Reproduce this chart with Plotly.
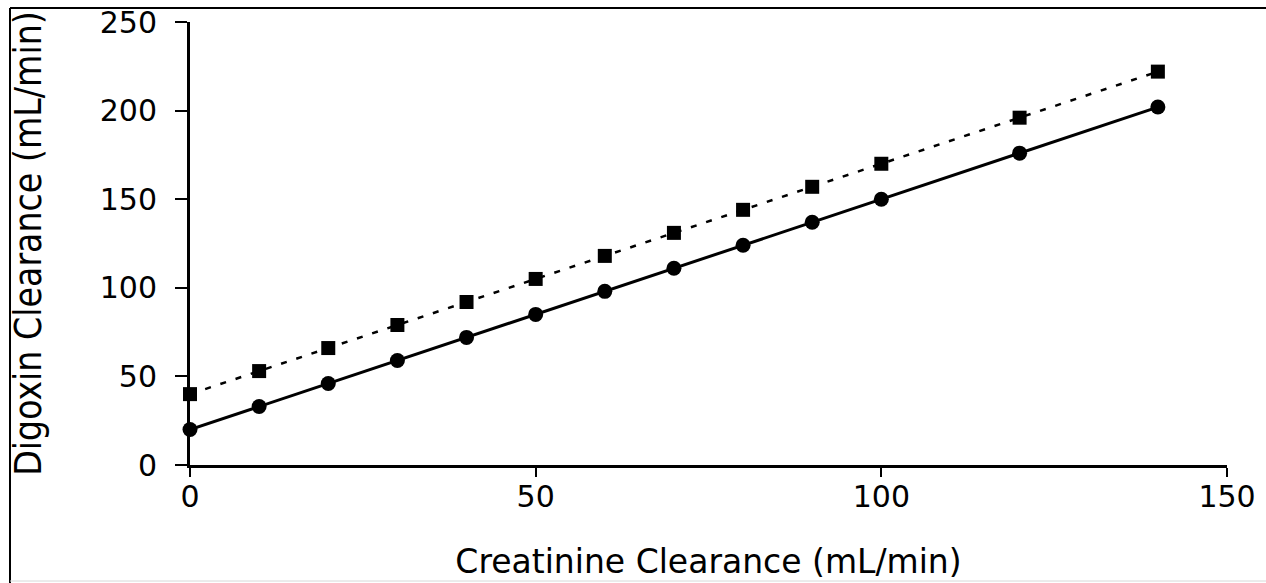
import plotly.graph_objects as go

creatinine = [0, 10, 20, 30, 40, 50, 60, 70, 80, 90, 100, 120, 140]
digoxin_circles = [20, 33, 46, 59, 72, 85, 98, 111, 124, 137, 150, 176, 202]
digoxin_squares = [40, 53, 66, 79, 92, 105, 118, 131, 144, 157, 170, 196, 222]
x_ticks = [0, 50, 100, 150]
y_ticks = [0, 50, 100, 150, 200, 250]

W, H = 1266, 583
L, R, T, B = 190, 39, 22, 118
pw, ph = W - L - R, H - T - B

fig = go.Figure()
fig.add_trace(go.Scatter(x=creatinine, y=digoxin_squares, mode="lines+markers",
                         line=dict(color="black", width=2.5, dash="6px,10px"),
                         marker=dict(symbol="square", size=14, color="black"),
                         cliponaxis=False, showlegend=False))
fig.add_trace(go.Scatter(x=creatinine, y=digoxin_circles, mode="lines+markers",
                         line=dict(color="black", width=3),
                         marker=dict(symbol="circle", size=15, color="black"),
                         cliponaxis=False, showlegend=False))

def px2x(p):
    return (p - L) / pw

def py2y(p):
    return (H - B - p) / ph

# outer frame: top and left black, bottom faint grey
fig.add_shape(type="line", xref="paper", yref="paper",
              x0=px2x(10), x1=px2x(1266), y0=py2y(8), y1=py2y(8),
              line=dict(color="black", width=2))
fig.add_shape(type="line", xref="paper", yref="paper",
              x0=px2x(10), x1=px2x(10), y0=py2y(8), y1=py2y(583),
              line=dict(color="black", width=2))
fig.add_shape(type="line", xref="paper", yref="paper",
              x0=px2x(10), x1=px2x(1266), y0=py2y(581), y1=py2y(581),
              line=dict(color="#d8d8d8", width=1))

font = "DejaVu Sans, Liberation Sans, Arial, sans-serif"
fig.update_layout(
    width=W, height=H,
    margin=dict(l=L, r=R, t=T, b=B, autoexpand=False),
    paper_bgcolor="white", plot_bgcolor="white",
    xaxis=dict(range=[0, 150], tickvals=x_ticks, showgrid=False, zeroline=False,
               automargin=False,
               showline=True, linecolor="black", linewidth=3,
               ticks="outside", ticklen=9, tickwidth=2, tickcolor="black",
               ticklabelstandoff=-6,
               tickfont=dict(family=font, size=30, color="black"),
               title=dict(text="Creatinine Clearance (mL/min)", standoff=37,
                          font=dict(family=font, size=33, color="black"))),
    yaxis=dict(range=[0, 250], tickvals=y_ticks, showgrid=False, zeroline=False,
               automargin=False,
               showline=True, linecolor="black", linewidth=3,
               ticks="outside", ticklen=12, tickwidth=2, tickcolor="black",
               ticklabelstandoff=12,
               tickfont=dict(family=font, size=30, color="black"),
               title=dict(text="Digoxin Clearance (mL/min)", standoff=47,
                          font=dict(family="Liberation Sans Narrow, DejaVu Sans Condensed, Liberation Sans, Arial, sans-serif",
                                    size=37, color="black"))),
)
fig.write_html("out.html", config={"displayModeBar": False},
               post_script="document.body.style.margin='0';document.body.style.overflow='hidden';")
